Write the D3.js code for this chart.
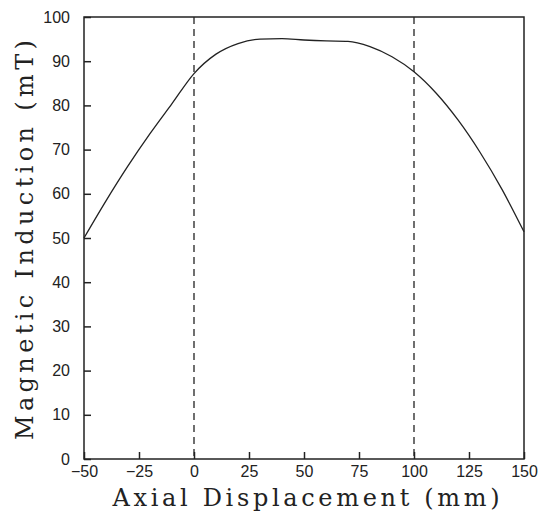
<!DOCTYPE html>
<html><head><meta charset="utf-8">
<script src="https://cdn.jsdelivr.net/npm/d3@7"></script>
<style>body{margin:0;background:#fff}svg{display:block}</style>
</head><body>
<script>
const displacement = [-50,-40,-30,-20,-10,0,10,20,30,40,50,60,70,80,90,100,110,120,130,140,150];
const induction    = [50,58.4,66.3,73.6,80.4,87.2,91.6,94.0,95.0,95.1,94.8,94.6,94.5,93.3,91.0,87.6,82.8,76.7,69.4,61.0,51.4];
const markers = [0, 100];
const xTicks = [-50,-25,0,25,50,75,100,125,150];
const yTicks = [0,10,20,30,40,50,60,70,80,90,100];
const xTitle = "Axial Displacement (mm)";
const yTitle = "Magnetic Induction (mT)";

const W=541,H=520, L=84, R=524, T=17, B=459;
const svg=d3.select("body").append("svg").attr("width",W).attr("height",H);
const x=d3.scaleLinear().domain([-50,150]).range([L,R]);
const y=d3.scaleLinear().domain([0,100]).range([B,T]);
const ink="#222";

// frame
svg.append("rect").attr("x",L).attr("y",T).attr("width",R-L).attr("height",B-T)
  .attr("fill","none").attr("stroke",ink).attr("stroke-width",1.5);

const xa=svg.append("g").attr("transform",`translate(0,${B})`)
  .call(d3.axisBottom(x).tickValues(xTicks).tickSizeInner(-7).tickSizeOuter(0).tickPadding(11).tickFormat(d=>d<0?"\u2212"+(-d):d));
const ya=svg.append("g").attr("transform",`translate(${L},0)`)
  .call(d3.axisLeft(y).tickValues(yTicks).tickSizeInner(-7).tickSizeOuter(0).tickPadding(14));
[xa,ya].forEach(a=>{a.select(".domain").remove();
  a.selectAll("line").attr("stroke",ink).attr("stroke-width",1.5);
  a.selectAll("text").attr("font-family","Liberation Sans, Arial, sans-serif").attr("font-size",16).attr("fill",ink);});
xa.selectAll("text").attr("dy","0.45em");

// dashed lines
svg.selectAll("line.m").data(markers).enter().append("line").attr("class","m")
  .attr("x1",d=>x(d)).attr("x2",d=>x(d)).attr("y1",T).attr("y2",B)
  .attr("stroke",ink).attr("stroke-width",1.3).attr("stroke-dasharray","7,5");

// curve
const line=d3.line().x((d,i)=>x(displacement[i])).y((d,i)=>y(induction[i])).curve(d3.curveMonotoneX);
svg.append("path").datum(induction).attr("d",line).attr("fill","none").attr("stroke",ink).attr("stroke-width",1.3);

// titles
svg.append("text").attr("x",306).attr("y",506).attr("text-anchor","middle")
  .attr("font-family","DejaVu Serif, serif").attr("font-size",24).attr("fill",ink)
  .attr("textLength",387).attr("lengthAdjust","spacing").text(xTitle);
svg.append("text").attr("transform",`translate(33,240) rotate(-90)`).attr("text-anchor","middle")
  .attr("font-family","DejaVu Serif, serif").attr("font-size",24).attr("fill",ink)
  .attr("textLength",400).attr("lengthAdjust","spacing").text(yTitle);
</script>
</body></html>
